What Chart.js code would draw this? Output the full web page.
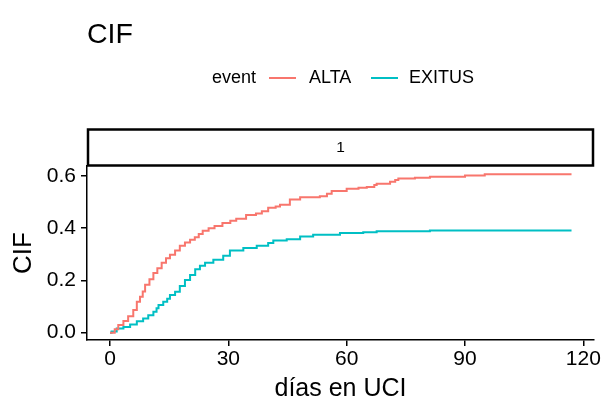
<!DOCTYPE html>
<html>
<head>
<meta charset="utf-8">
<script src="https://cdn.jsdelivr.net/npm/chart.js@4"></script>
<style>
  html, body { margin: 0; padding: 0; background: #fff; }
  #wrap { width: 603px; height: 408px; }
</style>
</head>
<body>
<div id="wrap"><canvas id="cif"></canvas></div>
<script>
// step times (days) and cumulative incidence
const altaDays = [0, 1.2, 2.1, 3.4, 4.6, 5.9, 6.8, 7.6, 8.3, 8.9, 10, 11, 12, 13.1, 14.2, 15.2, 16.5, 17.7, 19, 20.3, 21.5, 22.5, 23.5, 25, 26.5, 28.5, 30.5, 32, 34.5, 37, 38.5, 40.1, 42, 43.1, 45.6, 48.2, 53.2, 55, 56.2, 60, 63, 65.1, 67, 67.6, 71, 72.3, 73.1, 77.3, 81.1, 90, 95, 117];
const altaCif = [0, 0.013, 0.029, 0.045, 0.063, 0.087, 0.118, 0.138, 0.158, 0.183, 0.205, 0.228, 0.247, 0.268, 0.285, 0.298, 0.315, 0.333, 0.345, 0.356, 0.365, 0.378, 0.39, 0.4, 0.408, 0.42, 0.428, 0.436, 0.45, 0.456, 0.465, 0.478, 0.483, 0.49, 0.51, 0.518, 0.522, 0.532, 0.542, 0.551, 0.555, 0.558, 0.565, 0.57, 0.578, 0.584, 0.59, 0.593, 0.597, 0.602, 0.606, 0.606];

const exitusDays = [0, 0.4, 1.7, 3.4, 5.1, 6.8, 8.4, 9.7, 11, 11.8, 12.3, 13.5, 14.5, 15.2, 16.5, 17.7, 19, 20.3, 21.6, 22.8, 24.1, 26.2, 28.7, 30.4, 33.8, 37.2, 40.1, 41.4, 44.8, 48.2, 51.5, 58.3, 64.2, 67.6, 81.1, 117];
const exitusCif = [0, 0.005, 0.016, 0.022, 0.031, 0.044, 0.054, 0.067, 0.08, 0.094, 0.106, 0.118, 0.13, 0.144, 0.157, 0.179, 0.202, 0.221, 0.243, 0.256, 0.268, 0.279, 0.294, 0.315, 0.324, 0.333, 0.343, 0.353, 0.358, 0.368, 0.375, 0.382, 0.384, 0.388, 0.391, 0.391];

const eventNames = ["ALTA", "EXITUS"];
const eventColors = ["#F8766D", "#00BFC4"];
const xTicks = [0, 30, 60, 90, 120];
const yTicks = [0, 0.2, 0.4, 0.6];
const stripLabel = "1";

const FONT = "'Liberation Sans', Arial, Helvetica, sans-serif";

function toPoints(xs, ys) {
  return xs.map((x, i) => ({ x: x, y: ys[i] }));
}

// title, legend and facet strip, drawn like ggplot does
const decorations = {
  id: "decorations",
  afterDraw(chart) {
    const ctx = chart.ctx;
    const area = chart.chartArea;
    ctx.save();
    ctx.fillStyle = "#000";
    ctx.textBaseline = "alphabetic";
    ctx.textAlign = "left";

    ctx.font = "28.5px " + FONT;
    ctx.fillText("CIF", area.left, 43);

    // legend
    const ly = 78;
    ctx.font = "18px " + FONT;
    ctx.textBaseline = "middle";
    ctx.fillText("event", 212, ly);
    const keys = [[269, 309], [371, 409]];
    keys.forEach((k, i) => {
      ctx.strokeStyle = eventColors[i];
      ctx.lineWidth = 2;
      ctx.beginPath();
      ctx.moveTo(k[0], ly);
      ctx.lineTo(k[0] + 27, ly);
      ctx.stroke();
      ctx.fillStyle = "#000";
      ctx.fillText(eventNames[i], k[1], ly);
    });

    // strip
    ctx.strokeStyle = "#000";
    ctx.lineWidth = 2.5;
    ctx.strokeRect(area.left + 1, 129.5, area.right - area.left - 2, 36);
    ctx.font = "15.5px " + FONT;
    ctx.textAlign = "center";
    ctx.fillText(stripLabel, (area.left + area.right) / 2, 148);
    ctx.restore();
  }
};

new Chart(document.getElementById("cif"), {
  type: "line",
  data: {
    datasets: [
      {
        label: eventNames[0],
        data: toPoints(altaDays, altaCif),
        borderColor: eventColors[0],
        borderWidth: 2,
        stepped: "before",
        pointRadius: 0,
        fill: false,
      },
      {
        label: eventNames[1],
        data: toPoints(exitusDays, exitusCif),
        borderColor: eventColors[1],
        borderWidth: 2,
        stepped: "before",
        pointRadius: 0,
        fill: false,
      },
    ],
  },
  options: {
    responsive: true,
    maintainAspectRatio: false,
    animation: false,
    layout: { padding: { top: 166, right: 9, left: 0, bottom: 0 } },
    plugins: {
      legend: { display: false },
      title: { display: false },
      tooltip: { enabled: false },
    },
    scales: {
      x: {
        type: "linear",
        min: -5.83,
        max: 122.7,
        afterFit: (scale) => { scale.height = 68; },
        afterBuildTicks: (scale) => { scale.ticks = xTicks.map((v) => ({ value: v })); },
        border: { display: true, color: "#000", width: 1.5 },
        grid: { display: true, drawOnChartArea: false, drawTicks: true, tickLength: 6, color: "#000", lineWidth: 1.5 },
        ticks: { color: "#000", font: { family: FONT, size: 21 }, padding: 1, maxRotation: 0 },
        title: { display: true, text: "días en UCI", color: "#000", font: { family: FONT, size: 25 }, padding: { top: 0, bottom: 4 } },
      },
      y: {
        min: -0.028,
        max: 0.638,
        afterFit: (scale) => { scale.width = 87; },
        afterBuildTicks: (scale) => { scale.ticks = yTicks.map((v) => ({ value: v })); },
        border: { display: true, color: "#000", width: 1.5 },
        grid: { display: true, drawOnChartArea: false, drawTicks: true, tickLength: 6, color: "#000", lineWidth: 1.5 },
        ticks: { color: "#000", font: { family: FONT, size: 21 }, padding: 5, callback: (v) => v.toFixed(1) },
        title: { display: true, text: "CIF", color: "#000", font: { family: FONT, size: 26 }, padding: { top: 8, bottom: 0 } },
      },
    },
  },
  plugins: [decorations],
});
</script>
</body>
</html>
